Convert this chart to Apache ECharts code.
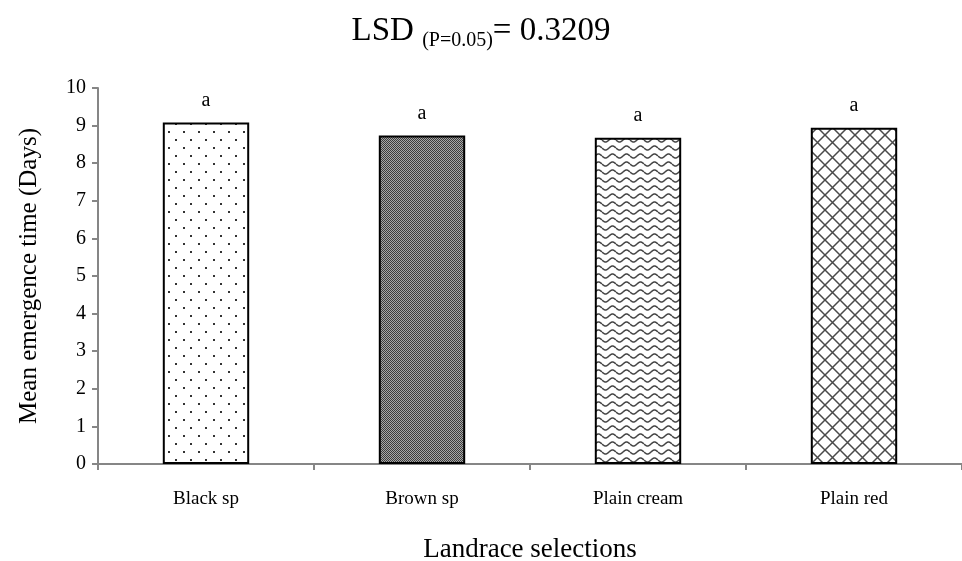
<!DOCTYPE html>
<html>
<head>
<meta charset="utf-8">
<script src="https://cdn.jsdelivr.net/npm/echarts@6/dist/echarts.min.js"></script>
<style>
  html, body { margin: 0; padding: 0; background: #fff; }
  #main { width: 962px; height: 561px; }
</style>
</head>
<body>
<div id="main"></div>
<script>
var categories = ['Black sp', 'Brown sp', 'Plain cream', 'Plain red'];
var meanDays = [9.08, 8.74, 8.68, 8.94];
var letters = ['a', 'a', 'a', 'a'];
var yTicks = { min: 0, max: 10, step: 1 };

// fill patterns (canvas tiles)
function tile(w, h, draw) {
    var c = document.createElement('canvas');
    c.width = w; c.height = h;
    var ctx = c.getContext('2d');
    ctx.fillStyle = '#fff';
    ctx.fillRect(0, 0, w, h);
    draw(ctx);
    return { image: c, repeat: 'repeat' };
}
var dots = tile(15, 16, function (ctx) {
    ctx.fillStyle = '#333';
    ctx.fillRect(3, 3, 2, 2);
    ctx.fillRect(10, 11, 2, 2);
});
var checker = tile(2, 2, function (ctx) {
    ctx.fillStyle = '#3c3c3c';
    ctx.fillRect(0, 0, 1, 1);
    ctx.fillRect(1, 1, 1, 1);
    ctx.fillStyle = '#a8a8a8';
    ctx.fillRect(1, 0, 1, 1);
    ctx.fillRect(0, 1, 1, 1);
});
var waves = tile(14, 8, function (ctx) {
    ctx.strokeStyle = '#444';
    ctx.lineWidth = 1.5;
    ctx.beginPath();
    for (var x = 0; x <= 14; x += 0.5) {
        var y = 4 + 2 * Math.sin(x / 14 * Math.PI * 2);
        if (x === 0) ctx.moveTo(x, y); else ctx.lineTo(x, y);
    }
    ctx.stroke();
});
var hatch = tile(15, 15, function (ctx) {
    ctx.strokeStyle = '#4a4a4a';
    ctx.lineWidth = 1.5;
    ctx.beginPath();
    ctx.moveTo(0, 0); ctx.lineTo(15, 15);
    ctx.moveTo(15, 0); ctx.lineTo(0, 15);
    ctx.stroke();
});
var fills = [dots, checker, waves, hatch];

var myChart = echarts.init(document.getElementById('main'));
var font = '"Liberation Serif", "Times New Roman", serif';

var option = {
    animation: false,
    title: {
        text: '{a|LSD }{b|(P=0.05)}{a|= 0.3209}',
        left: 'center',
        top: 6,
        textStyle: {
            fontWeight: 'normal',
            rich: {
                a: { fontFamily: font, fontSize: 33, color: '#000', fontWeight: 'normal' },
                b: { fontFamily: font, fontSize: 20, color: '#000', fontWeight: 'normal', verticalAlign: 'bottom', padding: [20, 0, 0, 0] }
            }
        }
    },
    grid: {
        left: 98,
        right: 0,
        top: 88,
        bottom: 97,
        outerBoundsMode: 'none'
    },
    xAxis: {
        type: 'category',
        data: categories,
        name: 'Landrace selections',
        nameLocation: 'middle',
        nameGap: 72,
        nameTextStyle: { fontFamily: font, fontSize: 27, color: '#000' },
        axisLine: { lineStyle: { color: '#868686', width: 2 } },
        axisTick: { show: true, length: 6, lineStyle: { color: '#868686', width: 2 } },
        axisLabel: { fontFamily: font, fontSize: 19, color: '#000', margin: 26 }
    },
    yAxis: {
        type: 'value',
        min: yTicks.min,
        max: yTicks.max,
        interval: yTicks.step,
        name: 'Mean emergence time (Days)',
        nameLocation: 'middle',
        nameGap: 56,
        nameTextStyle: { fontFamily: font, fontSize: 25, color: '#000' },
        axisLine: { show: true, lineStyle: { color: '#868686', width: 2 } },
        axisTick: { show: true, length: 6, lineStyle: { color: '#868686', width: 2 } },
        axisLabel: { fontFamily: font, fontSize: 20, color: '#000', margin: 12 },
        splitLine: { show: false }
    },
    series: [{
        type: 'bar',
        barWidth: '40%',
        data: meanDays.map(function (v, i) {
            return {
                value: v,
                itemStyle: { color: fills[i], borderColor: '#000', borderWidth: 2 },
                label: { formatter: letters[i] }
            };
        }),
        label: {
            show: true,
            position: 'top',
            distance: 12,
            fontFamily: font,
            fontSize: 20,
            color: '#000'
        }
    }]
};
myChart.setOption(option);
</script>
</body>
</html>
